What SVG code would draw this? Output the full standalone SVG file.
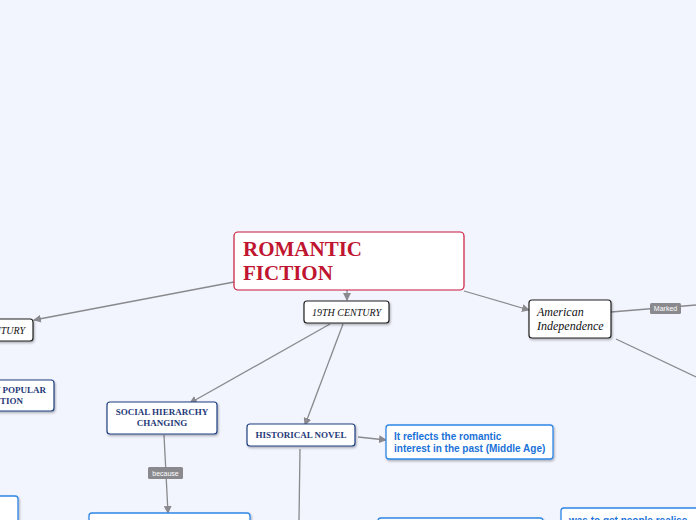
<svg xmlns="http://www.w3.org/2000/svg" width="696" height="520" viewBox="0 0 696 520">
<defs>
<marker id="arr" markerWidth="8" markerHeight="8" refX="7" refY="4" orient="auto" markerUnits="userSpaceOnUse">
<path d="M0,0 L8,4 L0,8 Z" fill="#8a8a8e"/>
</marker>
<filter id="sh" x="-10%" y="-10%" width="130%" height="140%">
<feDropShadow dx="1" dy="1.5" stdDeviation="1" flood-color="#000" flood-opacity="0.3"/>
</filter>
</defs>
<style>
.bg{fill:#f2f5fe}
.edge{stroke:#8a8a8e;stroke-width:1.3;fill:none}
.dark{fill:#fff;stroke:#222;stroke-width:1.2;filter:url(#sh)}
.navy{fill:#fff;stroke:#1f3f80;stroke-width:1.2;filter:url(#sh)}
.blue{fill:#fff;stroke:#2f86e6;stroke-width:1.3;filter:url(#sh)}
.ital{font-family:"Liberation Serif","DejaVu Serif",serif;font-style:italic;fill:#111}
.nv{font-family:"Liberation Serif","DejaVu Serif",serif;font-weight:bold;fill:#1f3a78;font-size:9px}
.bl{font-family:"Liberation Sans",Arial,sans-serif;font-weight:bold;fill:#1a72d8;font-size:10px}
.lbl{fill:#8a8a8e}
.lt{font-family:"Liberation Sans",Arial,sans-serif;fill:#fff;font-size:7px}
</style>
<rect class="bg" x="0" y="0" width="696" height="520"/>
<g id="connectors">
<line class="edge" x1="347" y1="290" x2="347" y2="300" marker-end="url(#arr)"/>
<line class="edge" x1="234" y1="282" x2="34" y2="320" marker-end="url(#arr)"/>
<line class="edge" x1="464" y1="291" x2="529" y2="310" marker-end="url(#arr)"/>
<line class="edge" x1="330" y1="324" x2="190" y2="403" marker-end="url(#arr)"/>
<line class="edge" x1="343" y1="324" x2="305" y2="425" marker-end="url(#arr)"/>
<line class="edge" x1="164" y1="435" x2="168" y2="513" marker-end="url(#arr)"/>
<line class="edge" x1="358" y1="437" x2="386" y2="440" marker-end="url(#arr)"/>
<line class="edge" x1="300" y1="449" x2="299" y2="520"/>
<line class="edge" x1="611" y1="312" x2="696" y2="305"/>
<line class="edge" x1="616" y1="339" x2="696" y2="377"/>
<rect class="lbl" x="148" y="467" width="35" height="12" rx="1.5"/>
<text class="lt" x="165.5" y="475.5" text-anchor="middle">because</text>
<rect class="lbl" x="650" y="303" width="31" height="11" rx="1.5"/>
<text class="lt" x="665.5" y="311" text-anchor="middle">Marked</text>
</g>
<g id="romantic-fiction">
<rect x="234" y="232" width="230" height="58" rx="4" fill="#fff" stroke="#c8163a" stroke-width="1.2"/>
<text x="243" y="256" font-family="Liberation Serif,DejaVu Serif,serif" font-weight="bold" font-size="21" fill="#c01530">ROMANTIC</text>
<text x="243" y="280" font-family="Liberation Serif,DejaVu Serif,serif" font-weight="bold" font-size="21" fill="#c01530">FICTION</text>
</g>
<g id="c19">
<rect class="dark" x="304" y="301" width="85" height="22" rx="3"/>
<text class="ital" x="346.5" y="316" font-size="10" text-anchor="middle">19TH CENTURY</text>
</g>
<g id="c18">
<rect class="dark" x="-52" y="319" width="85" height="22" rx="3"/>
<text class="ital" x="-9.5" y="334" font-size="10" text-anchor="middle">18TH CENTURY</text>
</g>
<g id="popular">
<rect class="navy" x="-60" y="380" width="114" height="31" rx="3"/>
<text class="nv" x="46" y="393" text-anchor="end">THE RISE OF  POPULAR</text>
<text class="nv" x="23" y="404" text-anchor="end">FICTION</text>
</g>
<g id="social">
<rect class="navy" x="107" y="402" width="110" height="32" rx="3"/>
<text class="nv" x="162" y="415" text-anchor="middle">SOCIAL HIERARCHY</text>
<text class="nv" x="162" y="426" text-anchor="middle">CHANGING</text>
</g>
<g id="historical">
<rect class="navy" x="247" y="424" width="108" height="22" rx="3"/>
<text class="nv" x="301" y="438" text-anchor="middle">HISTORICAL NOVEL</text>
</g>
<g id="reflects">
<rect class="blue" x="386" y="425" width="167" height="34" rx="3"/>
<text class="bl" x="394" y="440">It reflects the romantic</text>
<text class="bl" x="394" y="452">interest in the past (Middle Age)</text>
</g>
<g id="american">
<rect class="dark" x="529" y="300" width="82" height="38" rx="3"/>
<text class="ital" x="537" y="316" font-size="12">American</text>
<text class="ital" x="537" y="330" font-size="12">Independence</text>
</g>
<g id="bottom-left">
<rect class="blue" x="-40" y="496" width="58" height="40" rx="3"/>
</g>
<g id="bottom-social">
<rect class="blue" x="89" y="513" width="161" height="30" rx="3"/>
</g>
<g id="bottom-mid">
<rect class="blue" x="378" y="518" width="165" height="30" rx="3"/>
</g>
<g id="realise">
<rect class="blue" x="561" y="508" width="160" height="40" rx="3"/>
<text class="bl" x="569" y="524">was to get people realise</text>
</g>
</svg>
